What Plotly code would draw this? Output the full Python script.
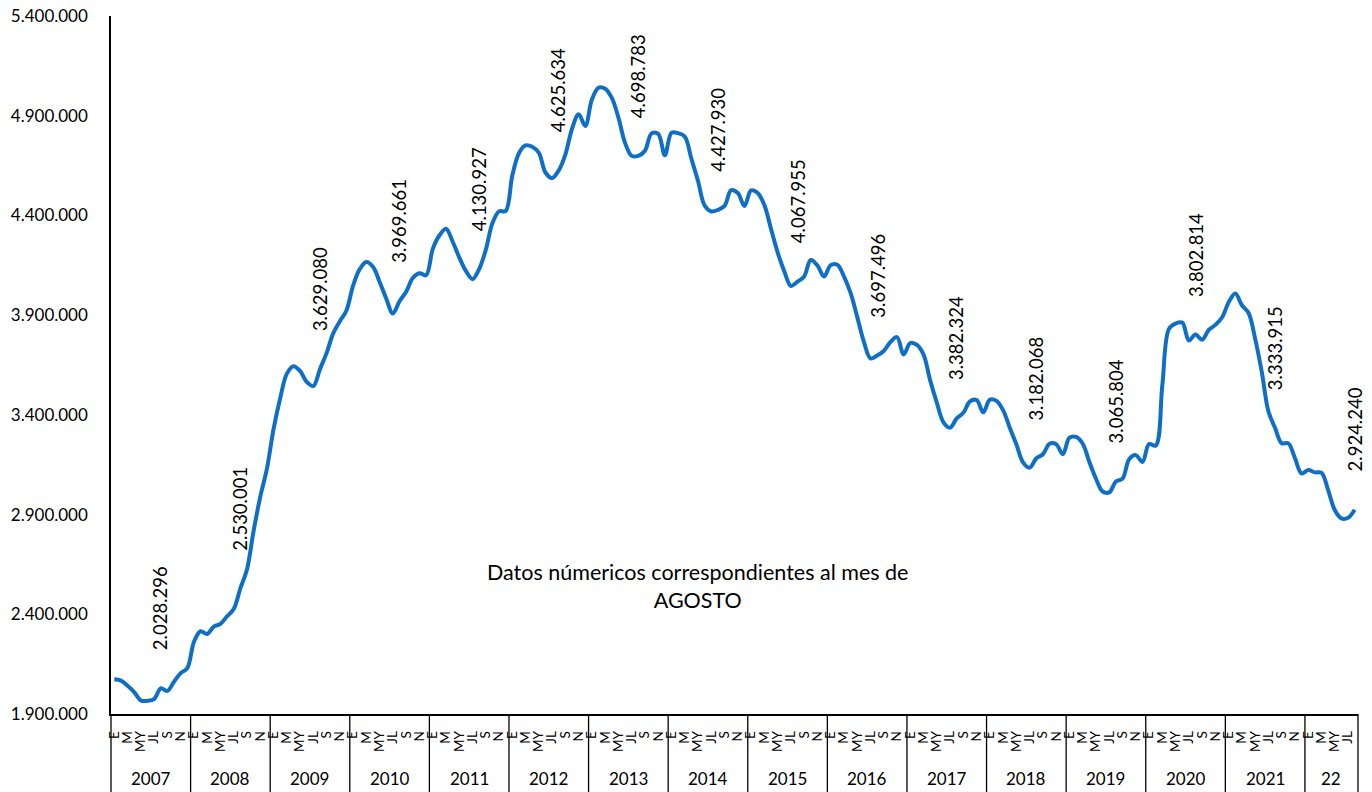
import plotly.graph_objects as go

# Year blocks shown under the month labels (the last block is a partial year)
years = ["2007", "2008", "2009", "2010", "2011", "2012", "2013", "2014",
         "2015", "2016", "2017", "2018", "2019", "2020", "2021", "22"]

# Month labels shown every second month inside each year block
month_marks = ["E", "M", "MY", "JL", "S", "N"]

# Registered unemployment, monthly, January 2007 - August 2022
paro_2007 = [2074380, 2067640, 2042000, 2010000, 1968000, 1966000,
             1975000, 2028296, 2016000, 2062000, 2105000, 2129547]
paro_2008 = [2261000, 2315000, 2300975, 2338500, 2352000, 2390000,
             2426000, 2530001, 2625000, 2818000, 2989000, 3128963]
paro_2009 = [3327801, 3481859, 3605402, 3644041, 3620139, 3564889,
             3544105, 3629080, 3709447, 3808353, 3868946, 3923603]
paro_2010 = [4048493, 4130625, 4166613, 4142425, 4066202, 3982368,
             3908112, 3969661, 4017763, 4085976, 4110294, 4100073]
paro_2011 = [4231003, 4299263, 4333669, 4269360, 4189659, 4121801,
             4080263, 4130927, 4226744, 4360926, 4420462, 4422359]
paro_2012 = [4599829, 4712098, 4750867, 4744235, 4714122, 4615269,
             4587455, 4625634, 4705279, 4833521, 4907817, 4848723]
paro_2013 = [4980778, 5040222, 5035243, 4989193, 4890928, 4763680,
             4698814, 4698783, 4724355, 4811383, 4808908, 4701338]
paro_2014 = [4814435, 4812486, 4795866, 4684301, 4572385, 4449701,
             4419860, 4427930, 4447650, 4526804, 4512153, 4447711]
paro_2015 = [4525691, 4512116, 4451939, 4333016, 4215031, 4120304,
             4046276, 4067955, 4094042, 4176369, 4149298, 4093508]
paro_2016 = [4150710, 4152986, 4094770, 4011171, 3891403, 3767054,
             3683061, 3697496, 3720297, 3764982, 3789823, 3702974]
paro_2017 = [3760231, 3750876, 3702317, 3573036, 3461128, 3362811,
             3335924, 3382324, 3410182, 3467026, 3474281, 3412781]
paro_2018 = [3476528, 3470248, 3422551, 3335868, 3252130, 3162162,
             3135021, 3182068, 3202509, 3254703, 3252867, 3202297]
paro_2019 = [3285761, 3289040, 3255084, 3163566, 3079491, 3015686,
             3011433, 3065804, 3079711, 3177659, 3198184, 3163605]
paro_2020 = [3253853, 3246047, 3548312, 3831203, 3857776, 3862883,
             3773034, 3802814, 3776485, 3826043, 3851312, 3888137]
paro_2021 = [3964353, 4008789, 3949640, 3910628, 3781250, 3614339,
             3416498, 3333915, 3257802, 3257068, 3182687, 3105905]
paro_2022 = [3123078, 3111684, 3108763, 3022503, 2922991, 2880582,
             2883812, 2924240]

paro = (paro_2007 + paro_2008 + paro_2009 + paro_2010 + paro_2011 + paro_2012
        + paro_2013 + paro_2014 + paro_2015 + paro_2016 + paro_2017 + paro_2018
        + paro_2019 + paro_2020 + paro_2021 + paro_2022)

y_ticks = [1900000, 2400000, 2900000, 3400000, 3900000, 4400000, 4900000, 5400000]
note_lines = ["Datos númericos correspondientes al mes de", "AGOSTO"]

FONT = "Lato"
BLUE = "#0F6FC6"
n = len(paro)
months = list(range(n))


def es_num(v):
    return f"{v:,}".replace(",", ".")


fig = go.Figure()
fig.add_trace(go.Scatter(
    x=months, y=paro, mode="lines",
    line=dict(color=BLUE, width=4, shape="spline", smoothing=1),
    hoverinfo="skip", showlegend=False,
))

tick_pos, tick_txt = [], []
for k in range(len(years)):
    for j, m in enumerate(month_marks):
        i = 12 * k + 2 * j
        if i < n:
            tick_pos.append(i)
            tick_txt.append(m)

annotations = []
shapes = []

# vertical separators between year blocks, below the axis
for k in range(len(years) + 1):
    b = min(12 * k, n)
    shapes.append(dict(type="line", xref="paper", yref="paper",
                       x0=b / n, x1=b / n, y0=0, y1=-0.12,
                       line=dict(color="black", width=1.3)))

# year names centred in their blocks
for k, yname in enumerate(years):
    first = 12 * k
    last = min(12 * k + 12, n) - 1
    annotations.append(dict(xref="x", yref="paper", x=(first + last) / 2,
                            y=-0.0917, text=yname, showarrow=False,
                            xanchor="center", yanchor="middle",
                            font=dict(family=FONT, size=17, color="black")))

# August values labelled above the line
for k in range(len(years)):
    i = 12 * k + 7
    if i < n:
        annotations.append(dict(xref="x", yref="y", x=i, y=paro[i],
                                text=es_num(paro[i]), showarrow=False,
                                textangle=-90, xanchor="center",
                                yanchor="bottom", yshift=36,
                                font=dict(family=FONT, size=18.5, color="black")))

annotations.append(dict(xref="paper", yref="paper", x=0.4707, y=0.1834,
                        text="<br>".join(note_lines), showarrow=False,
                        xanchor="center", yanchor="middle", align="center",
                        font=dict(family=FONT, size=21.5, color="black")))

fig.update_layout(
    width=1372, height=792,
    margin=dict(l=111, r=14, t=16, b=78, autoexpand=False),
    paper_bgcolor="white", plot_bgcolor="white",
    separators=",.",
    font=dict(family=FONT, size=17, color="black"),
    xaxis=dict(range=[-0.5, n - 0.5], tickvals=tick_pos, ticktext=tick_txt,
               tickangle=-90, tickfont=dict(size=13.5), ticks="",
               ticklabelstandoff=10, automargin=False,
               showgrid=False, zeroline=False, showline=True,
               linecolor="black", linewidth=1.5, fixedrange=True),
    yaxis=dict(range=[y_ticks[0], y_ticks[-1]], tickvals=y_ticks,
               tickformat=",d", ticks="", ticklabelstandoff=18,
               automargin=False,
               showgrid=False, zeroline=False, showline=True,
               linecolor="black", linewidth=1.5, fixedrange=True),
    annotations=annotations, shapes=shapes,
)

fig.write_html("out.html")
